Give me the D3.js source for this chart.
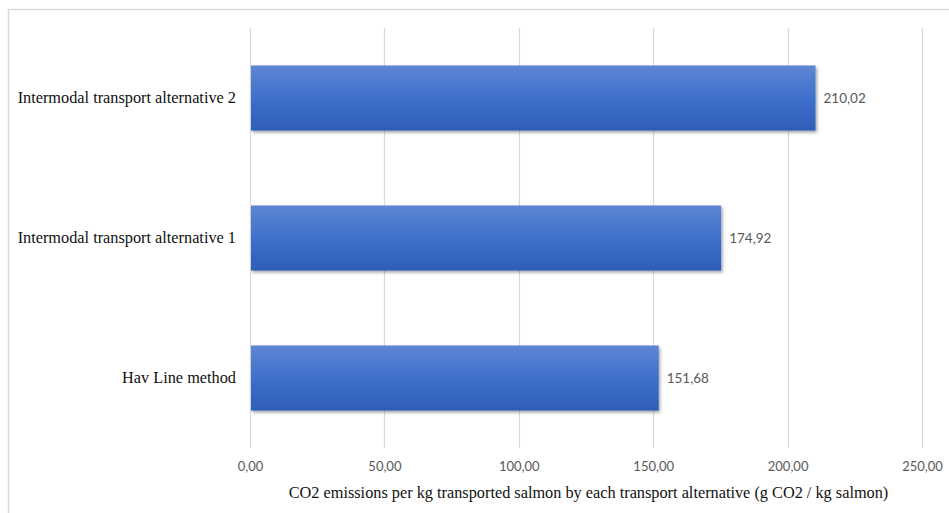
<!DOCTYPE html>
<html>
<head>
<meta charset="utf-8">
<script src="https://cdn.jsdelivr.net/npm/d3@7/dist/d3.min.js"></script>
<style>
  html, body { margin: 0; padding: 0; background: #fff; }
  svg { display: block; }
</style>
</head>
<body>
<svg id="chart" width="949" height="513"></svg>
<script>
// Categories listed bottom to top as they appear on the chart
const categories = ["Hav Line method", "Intermodal transport alternative 1", "Intermodal transport alternative 2"];
const values = [151.68, 174.92, 210.02];
const tickValues = [0, 50, 100, 150, 200, 250];
const axisTitle = "CO2 emissions per kg transported salmon by each transport alternative (g CO2 / kg salmon)";

const svg = d3.select("#chart");
const W = 949, H = 513;
const margin = { left: 250, right: 27, top: 28, bottom: 65 };
const plotW = W - margin.left - margin.right;
const plotH = H - margin.top - margin.bottom;

const fmt = v => d3.format(".2f")(v).replace(".", ",");

// Outer chart border (only left and top edges fall inside the view)
svg.append("path")
  .attr("d", `M8.5,${H} L8.5,9.5 L${W},9.5`)
  .attr("fill", "none").attr("stroke", "#d9d9d9").attr("stroke-width", 1.5);

const defs = svg.append("defs");
const grad = defs.append("linearGradient").attr("id", "barGrad")
  .attr("x1", 0).attr("y1", 0).attr("x2", 0).attr("y2", 1);
grad.append("stop").attr("offset", "0%").attr("stop-color", "#5e86d2");
grad.append("stop").attr("offset", "50%").attr("stop-color", "#3f70cc");
grad.append("stop").attr("offset", "100%").attr("stop-color", "#2e5db7");

const shadow = defs.append("filter").attr("id", "barShadow")
  .attr("x", "-5%").attr("y", "-20%").attr("width", "115%").attr("height", "150%");
shadow.append("feDropShadow").attr("dx", 1.5).attr("dy", 2).attr("stdDeviation", 1.5)
  .attr("flood-color", "#000").attr("flood-opacity", 0.35);

const x = d3.scaleLinear().domain([0, 250]).range([0, plotW]);
const y = d3.scaleBand().domain(categories.slice().reverse()).range([0, plotH])
  .paddingInner(0.535).paddingOuter(0.2675);

const g = svg.append("g").attr("transform", `translate(${margin.left},${margin.top})`);

// Vertical gridlines
g.append("g").selectAll("line").data(tickValues).join("line")
  .attr("x1", d => Math.round(x(d)) + 0.5).attr("x2", d => Math.round(x(d)) + 0.5)
  .attr("y1", 0).attr("y2", plotH)
  .attr("stroke", "#d9d9d9").attr("stroke-width", 1.2);

// Bars
g.append("g").selectAll("rect").data(categories).join("rect")
  .attr("x", x(0) + 1)
  .attr("y", d => y(d))
  .attr("width", (d, i) => x(values[i]) - x(0))
  .attr("height", y.bandwidth())
  .attr("fill", "url(#barGrad)")
  .attr("filter", "url(#barShadow)");

// Value labels
g.append("g").selectAll("text").data(categories).join("text")
  .attr("x", (d, i) => x(values[i]) + 9)
  .attr("y", d => y(d) + y.bandwidth() / 2)
  .attr("dy", "0.35em")
  .attr("font-family", "Lato, 'Open Sans', sans-serif")
  .attr("font-size", 13.5)
  .attr("fill", "#595959")
  .text((d, i) => fmt(values[i]));

// Category labels
const yAxis = d3.axisLeft(y).tickSize(0).tickPadding(14);
g.append("g").call(yAxis)
  .call(a => a.select(".domain").remove())
  .selectAll("text")
  .attr("font-family", "'Liberation Serif', 'Times New Roman', serif")
  .attr("font-size", 16.3)
  .attr("fill", "#111");

// X tick labels
const xAxis = d3.axisBottom(x).tickValues(tickValues).tickSize(0).tickPadding(14).tickFormat(fmt);
g.append("g").attr("transform", `translate(0,${plotH})`).call(xAxis)
  .call(a => a.select(".domain").remove())
  .selectAll("text")
  .attr("font-family", "Lato, 'Open Sans', sans-serif")
  .attr("font-size", 13)
  .attr("fill", "#595959");

// Axis title
svg.append("text")
  .attr("x", 588.5)
  .attr("y", 498)
  .attr("text-anchor", "middle")
  .attr("font-family", "'Liberation Serif', 'Times New Roman', serif")
  .attr("font-size", 16.3)
  .attr("fill", "#111")
  .text(axisTitle);
</script>
</body>
</html>
